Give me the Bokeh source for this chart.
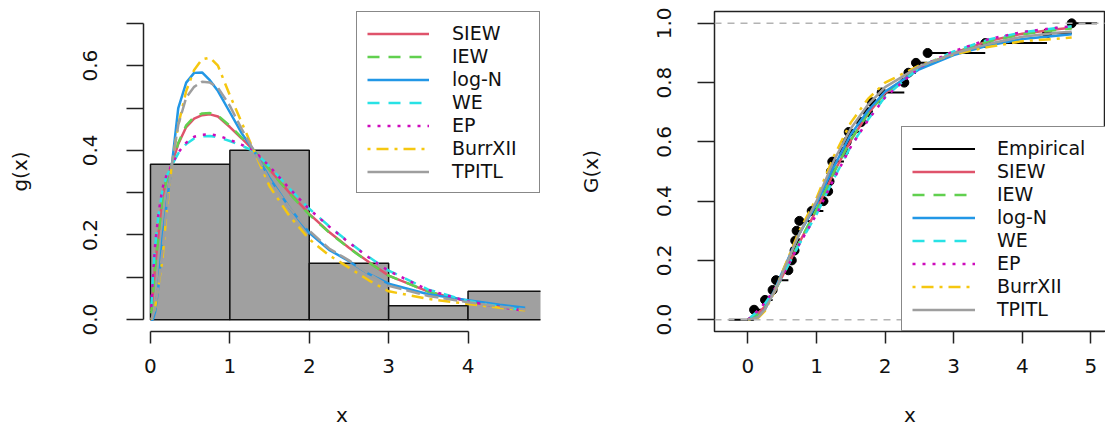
from bokeh.plotting import figure
from bokeh.models import (Range1d, FixedTicker, Legend, LegendItem, Span,
                          LinearAxis, NumeralTickFormatter)
from bokeh.layouts import row
from bokeh.embed import file_html
from bokeh.resources import INLINE

FONT = "DejaVu Sans"

# ---------------- data ----------------
bin_left = [0, 1, 2, 3, 4]
bin_right = [1, 2, 3, 4, 5]
hist_density = [0.367, 0.400, 0.133, 0.033, 0.067]

# observed sample (sorted), read from the empirical CDF
sample_x = [0.09, 0.25, 0.36, 0.41, 0.59, 0.64, 0.68, 0.69, 0.71, 0.75,
            0.93, 1.10, 1.17, 1.19, 1.21, 1.23, 1.40, 1.44, 1.47, 1.65,
            1.75, 1.81, 1.95, 2.28, 2.34, 2.45, 2.62, 3.46, 4.36, 4.72]
ecdf_left_end = -0.28
ecdf_right_end = 5.09

names = ["SIEW", "IEW", "log-N", "WE", "EP", "BurrXII", "TPITL"]
colors = ["#DF536B", "#61D04F", "#2297E6", "#28E2E5", "#CD0BBC", "#F5C710", "#9E9E9E"]
dashes = ["solid", "12 9", "solid", "12 9", "3 7", "3 6 12 6", "solid"]

# fitted densities (left panel)
dens_x = [0.01, 0.03, 0.06, 0.1, 0.15, 0.2, 0.27, 0.35, 0.45, 0.55, 0.65, 0.75, 0.85,
          1.0, 1.15, 1.3, 1.5, 1.75, 2.0, 2.25, 2.5, 2.75, 3.0, 3.5, 4.0, 4.4, 4.72]
dens_siew = [0.02, 0.06, 0.13, 0.20, 0.29, 0.33, 0.367, 0.415, 0.455, 0.475, 0.483, 0.485, 0.480,
             0.455, 0.428, 0.400, 0.355, 0.300, 0.250, 0.207, 0.170, 0.136, 0.104, 0.066, 0.043, 0.031, 0.023]
dens_iew = [0.015, 0.055, 0.125, 0.195, 0.285, 0.328, 0.367, 0.418, 0.459, 0.479, 0.487, 0.488, 0.482,
            0.458, 0.430, 0.400, 0.354, 0.298, 0.248, 0.206, 0.169, 0.135, 0.104, 0.066, 0.043, 0.031, 0.023]
dens_logn = [0.0, 0.0, 0.02, 0.08, 0.19, 0.27, 0.367, 0.50, 0.56, 0.583, 0.584, 0.565, 0.54,
             0.49, 0.44, 0.40, 0.335, 0.265, 0.205, 0.165, 0.138, 0.108, 0.085, 0.060, 0.046, 0.035, 0.028]
dens_we = [0.03, 0.10, 0.175, 0.245, 0.305, 0.337, 0.365, 0.393, 0.415, 0.428, 0.433, 0.434, 0.431,
           0.422, 0.411, 0.398, 0.362, 0.310, 0.262, 0.221, 0.183, 0.148, 0.116, 0.071, 0.044, 0.031, 0.022]
dens_ep = [0.03, 0.10, 0.18, 0.25, 0.31, 0.34, 0.367, 0.395, 0.418, 0.432, 0.437, 0.438, 0.435,
           0.425, 0.413, 0.400, 0.362, 0.310, 0.261, 0.220, 0.182, 0.147, 0.115, 0.070, 0.043, 0.030, 0.021]
dens_burr = [0.0, 0.01, 0.03, 0.08, 0.14, 0.25, 0.367, 0.46, 0.54, 0.59, 0.615, 0.619, 0.60,
             0.53, 0.465, 0.40, 0.315, 0.245, 0.19, 0.152, 0.123, 0.093, 0.067, 0.049, 0.037, 0.028, 0.022]
dens_tpitl = [0.0, 0.01, 0.03, 0.08, 0.16, 0.26, 0.367, 0.46, 0.525, 0.55, 0.562, 0.56, 0.548,
              0.505, 0.45, 0.40, 0.33, 0.265, 0.21, 0.168, 0.14, 0.108, 0.08, 0.056, 0.041, 0.031, 0.024]
dens_all = [dens_siew, dens_iew, dens_logn, dens_we, dens_ep, dens_burr, dens_tpitl]

# fitted CDFs (right panel)
cdf_x = [0.0, 0.15, 0.25, 0.4, 0.5, 0.75, 1.0, 1.25, 1.5, 1.75, 2.0, 2.5, 3.0, 3.5, 4.0, 4.5, 4.72]
cdf_siew = [0.0, 0.02, 0.045, 0.10, 0.145, 0.26, 0.37, 0.495, 0.605, 0.695, 0.765, 0.85, 0.90, 0.94, 0.965, 0.98, 0.985]
cdf_iew = [0.0, 0.018, 0.043, 0.10, 0.145, 0.262, 0.372, 0.497, 0.607, 0.696, 0.765, 0.85, 0.899, 0.938, 0.963, 0.978, 0.983]
cdf_logn = [0.0, 0.008, 0.035, 0.105, 0.16, 0.29, 0.39, 0.515, 0.625, 0.705, 0.77, 0.845, 0.893, 0.925, 0.947, 0.958, 0.963]
cdf_we = [0.0, 0.03, 0.055, 0.105, 0.145, 0.255, 0.355, 0.475, 0.585, 0.675, 0.752, 0.852, 0.905, 0.945, 0.97, 0.984, 0.99]
cdf_ep = [0.0, 0.032, 0.057, 0.107, 0.147, 0.255, 0.355, 0.473, 0.583, 0.673, 0.75, 0.852, 0.906, 0.946, 0.971, 0.985, 0.99]
cdf_burr = [0.0, 0.006, 0.03, 0.10, 0.16, 0.30, 0.41, 0.55, 0.665, 0.745, 0.80, 0.858, 0.895, 0.92, 0.94, 0.948, 0.952]
cdf_tpitl = [0.0, 0.008, 0.035, 0.10, 0.155, 0.29, 0.40, 0.535, 0.645, 0.725, 0.785, 0.855, 0.898, 0.93, 0.955, 0.968, 0.972]
cdf_all = [cdf_siew, cdf_iew, cdf_logn, cdf_we, cdf_ep, cdf_burr, cdf_tpitl]

x_ticks_left = [0, 1, 2, 3, 4]
y_ticks_left = [0.0, 0.2, 0.4, 0.6]
y_minor_left = [0.1, 0.3, 0.5, 0.7]
x_ticks_right = [0, 1, 2, 3, 4, 5]
y_ticks_right = [0.0, 0.2, 0.4, 0.6, 0.8, 1.0]

AX = "#222222"


def style_axis(ax, tick_out, label_standoff, axis_label_standoff):
    ax.axis_line_color = AX
    ax.axis_line_width = 1.5
    ax.major_tick_line_color = AX
    ax.major_tick_line_width = 1.5
    ax.major_tick_in = 0
    ax.major_tick_out = tick_out
    ax.minor_tick_line_color = AX
    ax.minor_tick_line_width = 1.5
    ax.minor_tick_in = 0
    ax.minor_tick_out = tick_out
    ax.major_label_text_font = FONT
    ax.major_label_text_font_size = "20px"
    ax.major_label_text_color = "#111111"
    ax.major_label_standoff = label_standoff
    ax.axis_label_text_font = FONT
    ax.axis_label_text_font_size = "20px"
    ax.axis_label_text_font_style = "normal"
    ax.axis_label_text_color = "#111111"
    ax.axis_label_standoff = axis_label_standoff


def style_legend(leg, glyph_w, standoff, label_w):
    leg.border_line_color = "#111111"
    leg.border_line_width = 1.5
    leg.background_fill_color = "white"
    leg.background_fill_alpha = 1.0
    leg.padding = 10
    leg.margin = 0
    leg.spacing = 1
    leg.glyph_width = glyph_w
    leg.glyph_height = 19
    leg.label_height = 19
    leg.label_standoff = standoff
    leg.label_width = label_w
    leg.label_text_font = FONT
    leg.label_text_font_size = "19px"
    leg.label_text_color = "#111111"


# ---------------- left panel: histogram + densities ----------------
p1 = figure(width=560, height=430, x_range=Range1d(-0.088, 4.913), y_range=Range1d(-0.028, 0.728),
            x_axis_type=None, y_axis_type=None, output_backend="svg", toolbar_location=None,
            min_border_left=143, min_border_right=20, min_border_top=11, min_border_bottom=99,
            outline_line_color=None, background_fill_color="white")

xa1 = LinearAxis(bounds=(0, 4), ticker=FixedTicker(ticks=x_ticks_left), axis_label="x")
style_axis(xa1, 12, 15, 27)
p1.add_layout(xa1, "below")
ya1 = LinearAxis(bounds=(0, 0.7), ticker=FixedTicker(ticks=y_ticks_left, minor_ticks=y_minor_left),
                 formatter=NumeralTickFormatter(format="0.0"), axis_label="g(x)")
style_axis(ya1, 17, 29, 49)
ya1.major_label_orientation = "vertical"
p1.add_layout(ya1, "left")

p1.quad(left=bin_left, right=bin_right, bottom=0, top=hist_density,
        fill_color="#A0A0A0", line_color="#111111", line_width=1.5)

items1 = []
for nm, col, d, ys in zip(names, colors, dashes, dens_all):
    plot_dash = "14 5" if nm == "TPITL" else d
    r = p1.line(dens_x, ys, line_color=col, line_width=2.5, line_dash=plot_dash)
    if nm == "TPITL":
        # one-point solid line: invisible in the plot, gives the solid legend key
        r = p1.line(dens_x[:1], ys[:1], line_color=col, line_width=2.5, line_dash=d)
    items1.append(LegendItem(label=nm, renderers=[r]))

leg1 = Legend(items=items1, location="top_right")
style_legend(leg1, 62, 23, 77)
p1.add_layout(leg1)

# ---------------- right panel: ECDF + fitted CDFs ----------------
p2 = figure(width=545, height=430, x_range=Range1d(-0.487, 5.213), y_range=Range1d(-0.04, 1.04),
            x_axis_type=None, y_axis_type=None, output_backend="svg", toolbar_location=None,
            min_border_left=154, min_border_right=0, min_border_top=11, min_border_bottom=99,
            outline_line_color=AX, outline_line_width=1.5, background_fill_color="white")

xa2 = LinearAxis(ticker=FixedTicker(ticks=x_ticks_right), axis_label="x")
style_axis(xa2, 12, 15, 27)
xa2.axis_line_color = None
p2.add_layout(xa2, "below")
ya2 = LinearAxis(ticker=FixedTicker(ticks=y_ticks_right),
                 formatter=NumeralTickFormatter(format="0.0"), axis_label="G(x)")
style_axis(ya2, 17, 26, 52)
ya2.axis_line_color = None
ya2.major_label_orientation = "vertical"
p2.add_layout(ya2, "left")

n = len(sample_x)
seg_x0 = [ecdf_left_end] + sample_x
seg_x1 = sample_x + [ecdf_right_end]
seg_y = [k / n for k in range(n + 1)]
r_emp = p2.segment(x0=seg_x0, x1=seg_x1, y0=seg_y, y1=seg_y, line_color="black", line_width=2)
p2.scatter(sample_x, seg_y[1:], size=9, fill_color="black", line_color="black")

items2 = [LegendItem(label="Empirical", renderers=[r_emp])]
for nm, col, d, ys in zip(names, colors, dashes, cdf_all):
    r = p2.line(cdf_x, ys, line_color=col, line_width=2.5, line_dash=d)
    items2.append(LegendItem(label=nm, renderers=[r]))

for loc in (0.0, 1.0):
    p2.add_layout(Span(location=loc, dimension="width", line_color="#B3B3B3",
                       line_dash="7 6", line_width=1.5))

leg2 = Legend(items=items2, location=(187, 0))
style_legend(leg2, 63, 22, 106)
p2.add_layout(leg2)

layout = row(p1, p2)
open("out.html", "w").write(file_html(layout, INLINE))
